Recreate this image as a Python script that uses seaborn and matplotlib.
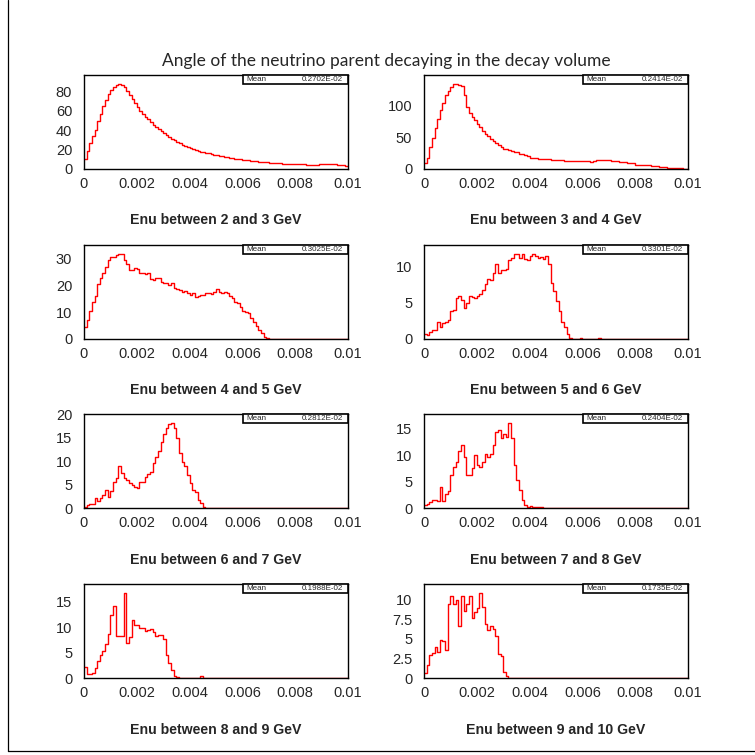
import numpy as np
import pandas as pd
import matplotlib
matplotlib.use("Agg")
import matplotlib.pyplot as plt
import seaborn as sns
from matplotlib.ticker import MultipleLocator, AutoMinorLocator, FuncFormatter
from matplotlib.patches import Rectangle
from matplotlib.lines import Line2D

# Decay angle (rad) histograms, 100 bins between 0 and 0.01, one per Enu slice
energy_low = [2, 3, 4, 5, 6, 7, 8, 9]
energy_high = [3, 4, 5, 6, 7, 8, 9, 10]
mean_labels = ["0.2702E-02", "0.2414E-02", "0.3025E-02", "0.3301E-02",
               "0.2812E-02", "0.2404E-02", "0.1988E-02", "0.1735E-02"]
y_major_steps = [20, 50, 10, 5, 5, 5, 5, 2.5]

enu_2_3 = [10, 19, 27, 34, 40, 49, 57, 65, 71, 77,
           81, 84, 87, 88, 87, 84, 80, 76, 72, 68,
           64, 60, 57, 54, 51, 48, 45, 43, 41, 39,
           37, 35, 33, 31, 30, 28, 27, 25, 24, 23,
           22, 21, 20, 19, 18, 17, 16.5, 16, 15, 14.5,
           14, 13.5, 13, 12.5, 12, 11.5, 11, 10.5, 10, 10,
           9.5, 9, 9, 8.5, 8, 8, 7.5, 7.5, 7, 7,
           6.5, 6.5, 6, 6, 6, 5.5, 5.5, 5.5, 5, 5,
           5, 5, 5, 5, 4.5, 4.5, 4.5, 4.5, 4.5, 5,
           5, 5, 5.5, 5.5, 5, 5, 4.5, 4.5, 4, 3.5]

enu_3_4 = [9, 18, 34, 48, 64, 79, 92, 103, 116, 122,
           129, 133, 134, 131, 130, 116, 98, 88, 82, 77,
           71, 66, 60, 55, 51, 47, 44, 40, 38, 35,
           32, 31, 30, 28, 27, 26, 24, 23, 22, 20,
           18, 18, 17, 16, 16, 15, 15, 15, 14, 14,
           14, 14, 14, 13, 13, 12, 12, 12, 12, 12,
           12, 12, 12, 11, 13, 14, 14, 14, 14, 14,
           14, 12, 12, 12, 11, 11, 11, 9, 9, 9,
           7, 7, 7, 6, 6, 6, 5, 5, 5, 3,
           3, 3, 2, 2, 2, 2, 1, 1, 0, 0]

enu_4_5 = [4.3, 7.0, 10.5, 13.8, 15.9, 20.4, 22.5, 24.3, 26.8, 29.3,
           30.5, 30.5, 31.1, 31.7, 31.7, 29.3, 27.8, 25.6, 25.6, 26.5,
           25.8, 24.3, 24.6, 24.1, 24.3, 22.1, 21.9, 22.5, 22.7, 21.2,
           20.6, 20.6, 20.0, 20.9, 18.8, 18.5, 18.1, 17.5, 17.9, 16.9,
           16.5, 16.9, 15.7, 16.0, 16.3, 16.3, 16.9, 17.2, 16.7, 17.5,
           18.4, 17.5, 16.9, 17.5, 16.9, 15.9, 15.1, 13.8, 13.2, 12.0,
           10.4, 10.1, 9.5, 7.7, 6.4, 4.8, 3.3, 2.1, 0.9, 0.3,
           0, 0, 0, 0, 0, 0, 0, 0, 0, 0,
           0, 0, 0, 0, 0, 0, 0, 0, 0, 0,
           0, 0, 0, 0, 0, 0, 0, 0, 0, 0]

enu_5_6 = [0.7, 0.6, 0.9, 1.25, 1.3, 2.4, 1.6, 2.2, 2.3, 2.6,
           3.9, 4.0, 5.6, 5.9, 5.4, 4.3, 5.0, 6.0, 5.8, 5.6,
           5.9, 6.25, 6.8, 7.6, 8.3, 8.2, 9.1, 10.3, 9.1, 9.5,
           9.5, 9.7, 10.9, 11.2, 11.7, 11.8, 11.2, 11.8, 11.0, 10.9,
           11.5, 11.7, 11.4, 11.2, 11.3, 11.0, 11.4, 10.3, 7.8, 6.6,
           5.2, 3.8, 2.4, 1.6, 0.7, 0.2, 0, 0, 0, 0.1,
           0, 0, 0, 0, 0, 0, 0.1, 0, 0, 0,
           0, 0, 0, 0, 0, 0, 0, 0, 0, 0,
           0, 0, 0, 0, 0, 0, 0, 0, 0, 0,
           0, 0, 0, 0, 0, 0, 0, 0, 0, 0]

enu_6_7 = [0.3, 0.6, 0.9, 0.9, 2.2, 1.5, 2.1, 2.8, 3.9, 2.4,
           3.6, 5.6, 6.5, 8.9, 7.4, 6.5, 6.0, 5.3, 4.9, 4.6,
           4.2, 5.6, 5.5, 6.7, 7.2, 7.8, 9.6, 11.0, 12.2, 14.1,
           15.8, 17.1, 17.9, 18.3, 17.1, 14.9, 11.7, 9.9, 8.9, 7.1,
           5.3, 3.9, 3.4, 1.7, 1.0, 0.3, 0, 0, 0, 0,
           0, 0, 0, 0, 0, 0, 0, 0, 0, 0,
           0, 0, 0, 0, 0, 0, 0, 0, 0, 0,
           0, 0, 0, 0, 0, 0, 0, 0, 0, 0,
           0, 0, 0, 0, 0, 0, 0, 0, 0, 0,
           0, 0, 0, 0, 0, 0, 0, 0, 0, 0]

enu_7_8 = [0.5, 0.8, 1.2, 1.5, 1.5, 1.3, 4.0, 1.3, 2.6, 3.2,
           6.2, 7.7, 8.7, 10.8, 11.9, 9.6, 6.2, 6.3, 7.6, 10.1,
           8.2, 7.7, 8.7, 10.3, 9.6, 10.3, 11.9, 14.5, 14.7, 13.2,
           14.1, 13.5, 16.2, 13.2, 8.2, 5.3, 3.4, 1.5, 0.6, 0.2,
           0.3, 0.1, 0.1, 0.2, 0.1, 0, 0, 0, 0, 0,
           0, 0, 0, 0, 0, 0, 0, 0, 0, 0,
           0, 0, 0, 0, 0, 0, 0, 0, 0, 0,
           0, 0, 0, 0, 0, 0, 0, 0, 0, 0,
           0, 0, 0, 0, 0, 0, 0, 0, 0, 0,
           0, 0, 0, 0, 0, 0, 0, 0, 0, 0]

enu_8_9 = [2.1, 0.7, 0.7, 0.9, 2.0, 3.4, 4.5, 5.4, 6.6, 8.6,
           12.4, 14.1, 8.2, 8.2, 8.2, 16.8, 6.9, 8.0, 11.4, 10.5,
           10.4, 9.9, 9.9, 9.3, 9.5, 9.7, 9.1, 8.2, 8.4, 8.4,
           7.6, 4.6, 3.0, 1.6, 0.3, 0.2, 0, 0, 0, 0,
           0, 0, 0, 0, 0.3, 0, 0, 0, 0, 0,
           0, 0, 0, 0, 0, 0, 0, 0, 0, 0,
           0, 0, 0, 0, 0, 0, 0, 0, 0, 0,
           0, 0, 0, 0, 0, 0, 0, 0, 0, 0,
           0, 0, 0, 0, 0, 0, 0, 0, 0, 0,
           0, 0, 0, 0, 0, 0, 0, 0, 0, 0]

enu_9_10 = [0.7, 1.7, 2.9, 3.2, 4.0, 3.3, 4.8, 4.7, 3.6, 9.4,
            10.4, 9.4, 9.9, 6.6, 10.4, 8.5, 9.4, 10.4, 7.7, 8.4,
            8.9, 10.9, 9.0, 6.9, 6.1, 6.6, 6.3, 5.4, 3.1, 2.8,
            0.8, 0.3, 0.05, 0.05, 0.05, 0, 0.05, 0, 0, 0,
            0, 0, 0.05, 0, 0, 0, 0, 0, 0.05, 0,
            0, 0, 0, 0, 0, 0, 0, 0, 0, 0,
            0, 0, 0, 0, 0, 0, 0, 0, 0, 0,
            0, 0, 0, 0, 0, 0, 0, 0, 0, 0,
            0, 0, 0, 0, 0, 0, 0, 0, 0, 0,
            0, 0, 0, 0, 0, 0, 0, 0, 0, 0]

histograms = [enu_2_3, enu_3_4, enu_4_5, enu_5_6,
              enu_6_7, enu_7_8, enu_8_9, enu_9_10]

n_bins = 100
angle_range = (0.0, 0.01)
edges = np.linspace(angle_range[0], angle_range[1], n_bins + 1)
centers = 0.5 * (edges[:-1] + edges[1:])

sns.set_style("white")
plt.rcParams["font.family"] = ["Liberation Sans", "DejaVu Sans"]

W = H = 755
fig = plt.figure(figsize=(W / 100, H / 100), dpi=100)
fig.patch.set_facecolor("white")

col_left = [84, 424]
row_top = [75, 245, 414, 584]
aw, ah = 264, 94
fmt = FuncFormatter(lambda v, p: f"{v:g}")

for k, counts in enumerate(histograms):
    r, c = divmod(k, 2)
    ax = fig.add_axes([col_left[c] / W, 1 - (row_top[r] + ah) / H, aw / W, ah / H])
    df = pd.DataFrame({"angle": centers, "entries": np.asarray(counts, float)})
    sns.histplot(data=df, x="angle", weights="entries", bins=n_bins,
                 binrange=angle_range, element="step", fill=False,
                 color="red", linewidth=1.0, ax=ax)
    ax.set_xlim(*angle_range)
    ax.set_ylim(0, 1.1 * max(counts))
    ax.set_xlabel("")
    ax.set_ylabel("")
    ax.xaxis.set_major_locator(MultipleLocator(0.002))
    ax.xaxis.set_minor_locator(MultipleLocator(0.0005))
    ax.yaxis.set_major_locator(MultipleLocator(y_major_steps[k]))
    ax.yaxis.set_minor_locator(AutoMinorLocator(5))
    ax.xaxis.set_major_formatter(fmt)
    ax.yaxis.set_major_formatter(fmt)
    ax.tick_params(which="both", direction="in", top=False, right=False,
                   color="black", width=0.8)
    ax.tick_params(which="major", length=7.9, labelsize=10.5)
    ax.tick_params(which="minor", length=4.3)
    ax.tick_params(axis="x", which="major", pad=6)
    ax.tick_params(axis="y", which="major", pad=8.5)
    for s in ax.spines.values():
        s.set_visible(True)
        s.set_color("black")
        s.set_linewidth(1.0)

    # statistics box
    ax.add_patch(Rectangle((0.602, 0.901), 0.398, 0.099, transform=ax.transAxes,
                           facecolor="white", edgecolor="black", linewidth=1.2,
                           clip_on=False, zorder=5))
    ax.text(0.615, 0.95, "Mean", transform=ax.transAxes, fontsize=5.8,
            ha="left", va="center", zorder=6)
    ax.text(0.982, 0.95, mean_labels[k], transform=ax.transAxes, fontsize=5.8,
            ha="right", va="center", zorder=6)

    fig.text((col_left[c] + aw / 2) / W, 1 - (220 + 170 * r) / H,
             f"Enu between {energy_low[k]} and {energy_high[k]} GeV",
             ha="center", va="center", fontsize=10.2, fontweight="bold")

fig.text(386 / W, 1 - 61 / H,
         "Angle of the neutrino parent decaying in the decay volume",
         ha="center", va="center", fontsize=12.5, fontweight="normal",
         family=["Lato", "DejaVu Sans"])

# page frame
fig.add_artist(Line2D([7.5 / W, 7.5 / W], [1 - 751 / H, 1.0], transform=fig.transFigure,
                      color="black", linewidth=0.9))
fig.add_artist(Line2D([7.5 / W, 1.0], [1 - 751 / H, 1 - 751 / H], transform=fig.transFigure,
                      color="black", linewidth=0.9))

fig.savefig("out.png", dpi=100, facecolor="white")
